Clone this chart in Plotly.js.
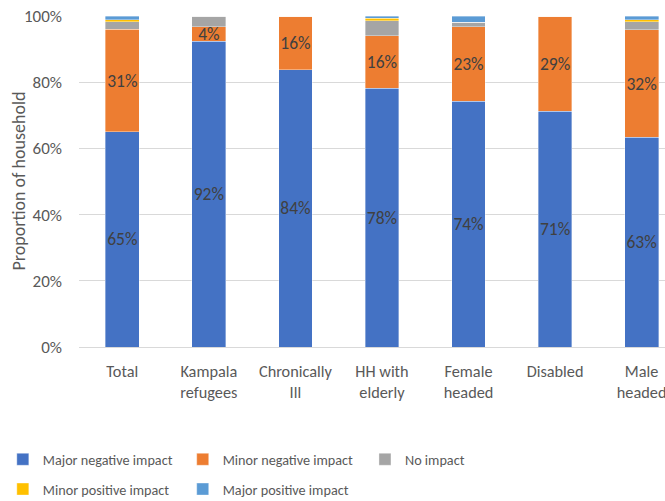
<!DOCTYPE html>
<html>
<head>
<meta charset="utf-8">
<script src="https://cdn.plot.ly/plotly-3.0.1.min.js"></script>
<style>html,body{margin:0;padding:0;background:#fff;}#chart{width:665px;height:501px;}</style>
</head>
<body>
<div id="chart"></div>
<script>
const categories = ["Total", "Kampala<br>refugees", "Chronically<br>Ill", "HH with<br>elderly", "Female<br>headed", "Disabled", "Male<br>headed"];
const seriesNames = ["Major negative impact", "Minor negative impact", "No impact", "Minor positive impact", "Major positive impact"];
const majorNegative = [65.0, 92.4, 83.7, 78.2, 74.3, 71.3, 63.4];
const minorNegative = [31.0, 4.3, 16.3, 15.9, 22.5, 28.7, 32.4];
const noImpact      = [2.2, 3.3, 0, 4.5, 1.3, 0, 2.5];
const minorPositive = [0.6, 0, 0, 0.7, 0, 0, 0.5];
const majorPositive = [1.2, 0, 0, 0.7, 1.9, 0, 1.2];
const yTickValues = [0, 20, 40, 60, 80, 100];
const yTickLabels = ["0%", "20%", "40%", "60%", "80%", "100%"];
const yAxisTitle = "Proportion of household";
const labelledSeries = [true, true, false, false, false];
const colors = ["#4472C4", "#ED7D31", "#A5A5A5", "#FFC000", "#5B9BD5"];

const allSeries = [majorNegative, minorNegative, noImpact, minorPositive, majorPositive];
const FONT = "Carlito, Calibri, Lato, sans-serif";
const legendIds = ["legend", "legend2", "legend3", "legend4", "legend5"];

const traces = allSeries.map((vals, i) => ({
  type: "bar",
  name: seriesNames[i],
  x: categories,
  y: vals,
  marker: {color: colors[i], line: {color: "rgba(255,255,255,0.6)", width: 0.6}},
  text: labelledSeries[i] ? vals.map(v => v > 0 ? Math.round(v) + "%" : "") : vals.map(() => ""),
  textposition: labelledSeries[i] ? "inside" : "none",
  insidetextanchor: "middle",
  textangle: 0,
  textfont: {color: "#404040", size: 17.5, family: FONT},
  constraintext: "none",
  hoverinfo: "none",
  legend: legendIds[i]
}));

function legendAt(x, y) {
  return {
    orientation: "v",
    font: {family: FONT, size: 14.2, color: "#595959"},
    xanchor: "left",
    yanchor: "middle",
    bgcolor: "rgba(0,0,0,0)",
    itemwidth: 30,
    x: x,
    y: y
  };
}

const row1 = -0.34, row2 = -0.43;
const col1 = -0.13, col2 = 0.177, col3 = 0.488;

const layout = {
  width: 665,
  height: 501,
  margin: {l: 79, r: 0, t: 16, b: 154, autoexpand: false},
  paper_bgcolor: "#ffffff",
  plot_bgcolor: "#ffffff",
  barmode: "stack",
  bargap: 0.61,
  font: {family: FONT, size: 15, color: "#595959"},
  uniformtext: {minsize: 17.5, mode: "show"},
  xaxis: {
    range: [-0.5, 6.27],
    showgrid: false,
    showline: false,
    ticks: "",
    ticklabelstandoff: 13,
    tickfont: {family: FONT, size: 16.3, color: "#595959"},
    automargin: false,
    fixedrange: true
  },
  yaxis: {
    range: [0, 100],
    tickmode: "array",
    tickvals: yTickValues,
    ticktext: yTickLabels,
    showgrid: true,
    gridcolor: "#D9D9D9",
    gridwidth: 1,
    zeroline: true,
    zerolinecolor: "#D9D9D9",
    zerolinewidth: 1,
    showline: false,
    ticks: "",
    ticklabelstandoff: 16,
    tickfont: {family: FONT, size: 17, color: "#595959"},
    automargin: false,
    fixedrange: true
  },
  annotations: [{
    text: yAxisTitle,
    xref: "paper", yref: "paper",
    x: -0.104, y: 0.5,
    xanchor: "center", yanchor: "middle",
    textangle: -90,
    showarrow: false,
    font: {family: FONT, size: 18, color: "#595959"}
  }],
  legend: legendAt(col1, row1),
  legend2: legendAt(col2, row1),
  legend3: legendAt(col3, row1),
  legend4: legendAt(col1, row2),
  legend5: legendAt(col2, row2),
  showlegend: true
};

Plotly.newPlot("chart", traces, layout, {displayModeBar: false, staticPlot: true});
</script>
</body>
</html>
